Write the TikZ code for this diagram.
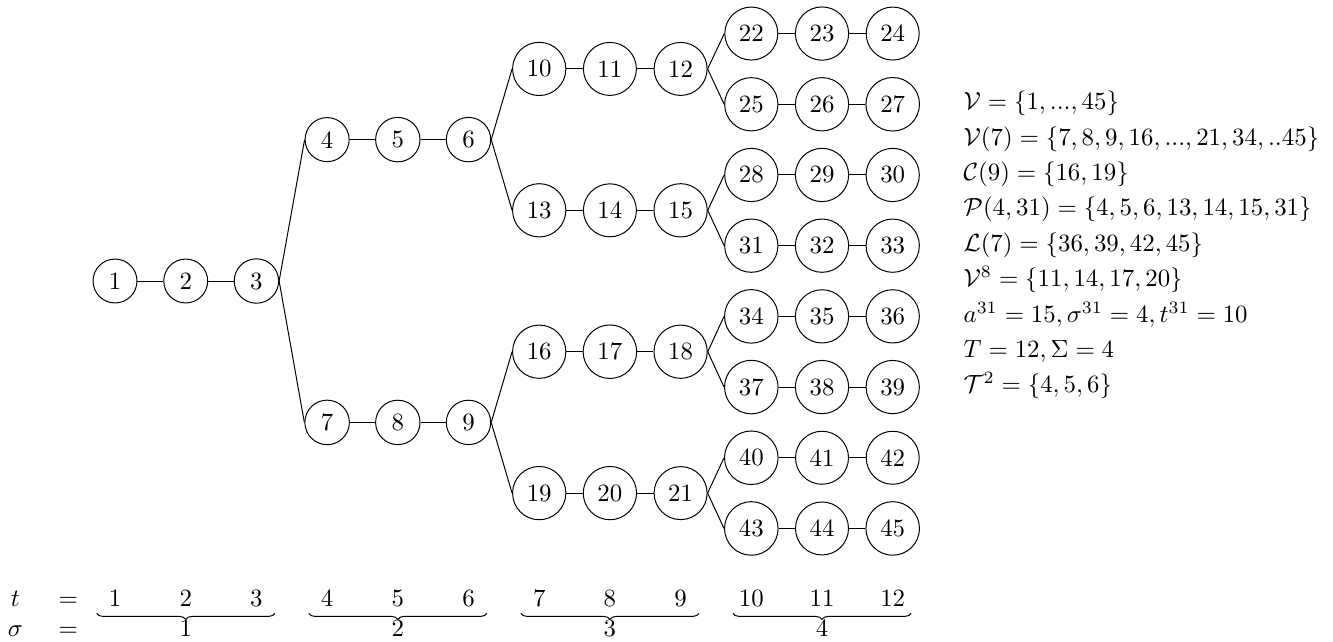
\documentclass[tikz,border=0pt]{standalone}
\usetikzlibrary{decorations.pathreplacing}
\tikzset{
	vertex/.style={draw, circle},
	stagebrace/.style={decorate, decoration={brace, mirror, amplitude=2.5pt}},
	infoline/.style={anchor=base west},
}
\begin{document}
\begin{tikzpicture}
	\useasboundingbox (-1.627,-5.106) rectangle (17.228,3.975);
	% chains of three nodes: first node / x / y
	\foreach \f/\x/\y in {1/0/0, 4/3/2, 7/3/-2, 10/6/3, 13/6/1, 16/6/-1, 19/6/-3,
		22/9/3.5, 25/9/2.5, 28/9/1.5, 31/9/0.5, 34/9/-0.5, 37/9/-1.5, 40/9/-2.5, 43/9/-3.5}
	{
		\pgfmathtruncatemacro{\g}{\f+1}
		\pgfmathtruncatemacro{\h}{\f+2}
		\node[vertex] (n\f) at (\x,\y) {\f};
		\node[vertex] (n\g) at (\x+1,\y) {\g};
		\node[vertex] (n\h) at (\x+2,\y) {\h};
		\draw (n\f) -- (n\g) -- (n\h);
	}
	% branching
	\foreach \a/\b in {3/4, 3/7, 6/10, 6/13, 9/16, 9/19, 12/22, 12/25,
		15/28, 15/31, 18/34, 18/37, 21/40, 21/43}
		\draw (n\a.east) -- (n\b.west);

	% time and stage rows
	\node[anchor=base] (tlab) at (-1.41,-4.607) {$t$};
	\node[anchor=base] (teq) at (-0.66,-4.607) {$=$};
	\node[anchor=base] (slab) at (-1.41,-5.03) {$\sigma$};
	\node[anchor=base] (seq) at (-0.66,-5.03) {$=$};
	\foreach \i in {1,...,12}
		\node[anchor=base] (t\i) at (\i-1,-4.607) {$\i$};
	\foreach \s in {1,...,4}
	{
		\draw[stagebrace] (3*\s-3.26,-4.70) -- (3*\s-0.74,-4.70);
		\node[anchor=base] (s\s) at (3*\s-2,-5.03) {$\s$};
	}

	% notation
	\node[infoline] (info1) at (11.88,2.42) {$\mathcal{V} = \{1,...,45\}$};
	\node[infoline] (info2) at (11.88,1.92) {$\mathcal{V}(7) = \{7,8,9,16,...,21,34,..45\}$};
	\node[infoline] (info3) at (11.88,1.42) {$\mathcal{C}(9) = \{16,19\}$};
	\node[infoline] (info4) at (11.88,0.92) {$\mathcal{P}(4,31) = \{4,5,6,13,14,15,31\}$};
	\node[infoline] (info5) at (11.88,0.42) {$\mathcal{L}(7) = \{36,39,42,45\}$};
	\node[infoline] (info6) at (11.88,-0.08) {$\mathcal{V}^8 = \{11,14,17,20\}$};
	\node[infoline] (info7) at (11.88,-0.58) {$a^{31} = 15, \sigma^{31} = 4, t^{31} = 10$};
	\node[infoline] (info8) at (11.88,-1.08) {$T = 12, \Sigma = 4$};
	\node[infoline] (info9) at (11.88,-1.58) {$\mathcal{T}^2 = \{4,5,6\}$};
\end{tikzpicture}
\end{document}
